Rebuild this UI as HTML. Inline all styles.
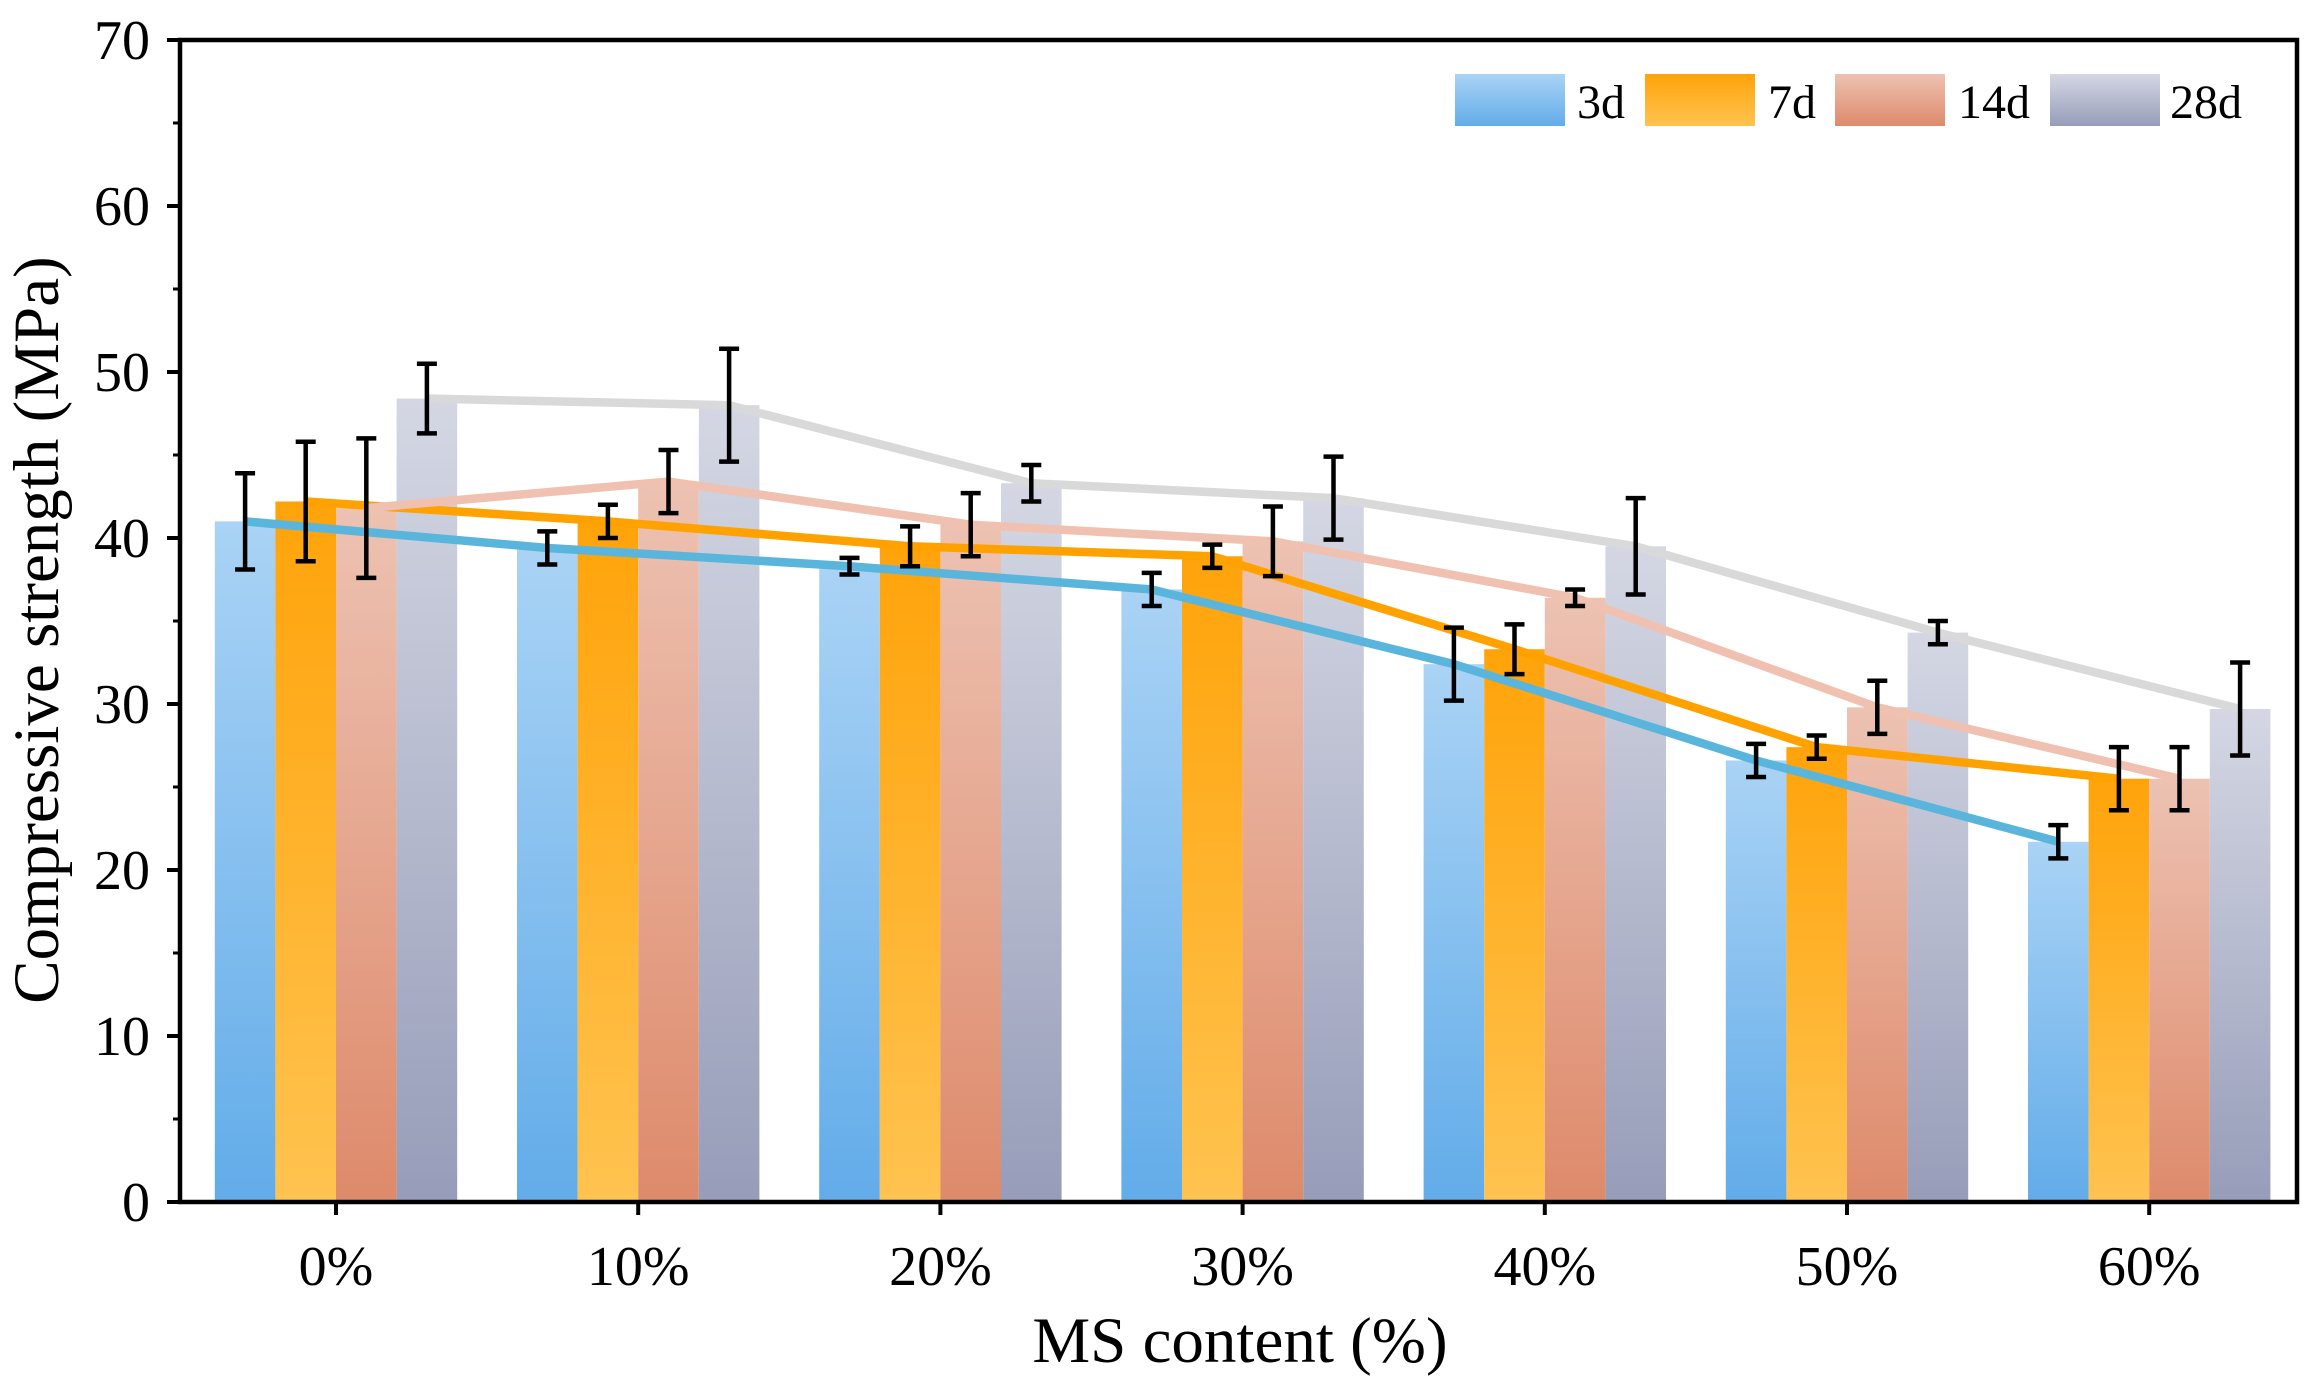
<!DOCTYPE html>
<html><head><meta charset="utf-8"><style>
html,body{margin:0;padding:0;background:#fff}
svg{display:block}
text{font-family:"Liberation Serif","DejaVu Serif",serif}
</style></head><body>
<svg id="chart" width="2319" height="1391" viewBox="0 0 2319 1391" xmlns="http://www.w3.org/2000/svg" font-family="Liberation Serif, serif">
<defs>
<linearGradient id="g0" x1="0" y1="0" x2="0" y2="1"><stop offset="0" stop-color="#aad3f5"/><stop offset="1" stop-color="#62ace9"/></linearGradient>
<linearGradient id="g1" x1="0" y1="0" x2="0" y2="1"><stop offset="0" stop-color="#ffa30a"/><stop offset="1" stop-color="#ffc350"/></linearGradient>
<linearGradient id="g2" x1="0" y1="0" x2="0" y2="1"><stop offset="0" stop-color="#edc2b2"/><stop offset="1" stop-color="#de8a6b"/></linearGradient>
<linearGradient id="g3" x1="0" y1="0" x2="0" y2="1"><stop offset="0" stop-color="#d4d7e3"/><stop offset="1" stop-color="#979db9"/></linearGradient>
</defs>
<g id="bars"></g>
<g id="lines"></g>
<g id="errs"></g>
<g id="axes"></g>
<g id="legend"></g>
<text x="0" y="0" transform="translate(58,630) rotate(-90)" text-anchor="middle" font-size="65">Compressive strength (MPa)</text>
<text x="1240" y="1362" text-anchor="middle" font-size="65">MS content (%)</text>
</svg>
<script>
const categories = ["0%","10%","20%","30%","40%","50%","60%"];
const seriesNames = ["3d","7d","14d","28d"];
const s3d = [41.0,39.4,38.3,36.9,32.4,26.6,21.7];
const s7d = [42.2,41.0,39.5,38.9,33.3,27.4,25.5];
const s14d = [41.8,43.4,40.8,39.8,36.4,29.8,25.5];
const s28d = [48.4,48.0,43.3,42.4,39.5,34.3,29.7];
const e3d = [2.9,1.0,0.5,1.0,2.2,1.0,1.0];
const e7d = [3.6,1.0,1.2,0.7,1.5,0.7,1.9];
const e14d = [4.2,1.9,1.9,2.1,0.5,1.6,1.9];
const e28d = [2.1,3.4,1.1,2.5,2.9,0.7,2.8];
const yTicks = [0,10,20,30,40,50,60,70];

const NS="http://www.w3.org/2000/svg";
const L=180,R=2297,T=40,B=1202;
const yMin=0,yMax=70;
const y=v=>B-(v-yMin)/(yMax-yMin)*(B-T);
const step=302.2, x0=336;
const xc=i=>x0+i*step;
const bw=60.6;
const barX=(i,s)=>xc(i)+(s-2)*bw;
const barC=(i,s)=>barX(i,s)+bw/2;
const series=[s3d,s7d,s14d,s28d];
const errs=[e3d,e7d,e14d,e28d];
const lineCol=["#5ab5dd","#ffa200","#f0c1b0","#d9d9d9"];
function mk(tag,attrs,parent){const e=document.createElementNS(NS,tag);for(const k in attrs)e.setAttribute(k,attrs[k]);parent.appendChild(e);return e;}
const gb=document.getElementById('bars'),gl=document.getElementById('lines'),ge=document.getElementById('errs'),ga=document.getElementById('axes'),gg=document.getElementById('legend');
series.forEach((d,s)=>{d.forEach((v,i)=>{
  const r=mk('rect',{x:barX(i,s),y:y(v),width:bw,height:y(0)-y(v),fill:`url(#g${s})`},gb);
  
  
});});
series.forEach((d,s)=>{
  const p=mk('polyline',{points:d.map((v,i)=>barC(i,s)+','+y(v)).join(' '),fill:'none',stroke:lineCol[s],'stroke-width':8.5,'stroke-linejoin':'round'},gl);
  
  
});
series.forEach((d,s)=>{d.forEach((v,i)=>{
  const cx=barC(i,s),e=errs[s][i],t=y(v+e),b=y(v-e);
  const p=mk('path',{d:`M${cx},${t}V${b}M${cx-10},${t}H${cx+10}M${cx-10},${b}H${cx+10}`,stroke:'#000','stroke-width':4.5,fill:'none'},ge);
  
  
});});
const fr=mk('rect',{x:L,y:T,width:R-L,height:B-T,fill:'none',stroke:'#000','stroke-width':4.5},ga);


yTicks.forEach(v=>{
  mk('line',{x1:L-13,x2:L,y1:y(v),y2:y(v),stroke:'#000','stroke-width':4},ga);
  if(v<yMax) mk('line',{x1:L-7,x2:L,y1:y(v+5),y2:y(v+5),stroke:'#000','stroke-width':3},ga);
  const t=mk('text',{x:L-30,y:y(v)+19,'text-anchor':'end','font-size':56},ga);
  t.textContent=v;
  
  
});
categories.forEach((c,i)=>{
  mk('line',{x1:xc(i),x2:xc(i),y1:B,y2:B+13,stroke:'#000','stroke-width':4},ga);
  const t=mk('text',{x:xc(i),y:1285,'text-anchor':'middle','font-size':56},ga);
  t.textContent=c;
  
  
});
const legX=[1455,1645,1835,2050],txX=[1577,1768,1958,2170];
seriesNames.forEach((n,s)=>{
  const r=mk('rect',{x:legX[s],y:74,width:110,height:52,fill:`url(#g${s})`},gg);
  
  
  const t=mk('text',{x:txX[s],y:118,'font-size':48},gg);
  t.textContent=n;
  
  
});
</script>
</body></html>
